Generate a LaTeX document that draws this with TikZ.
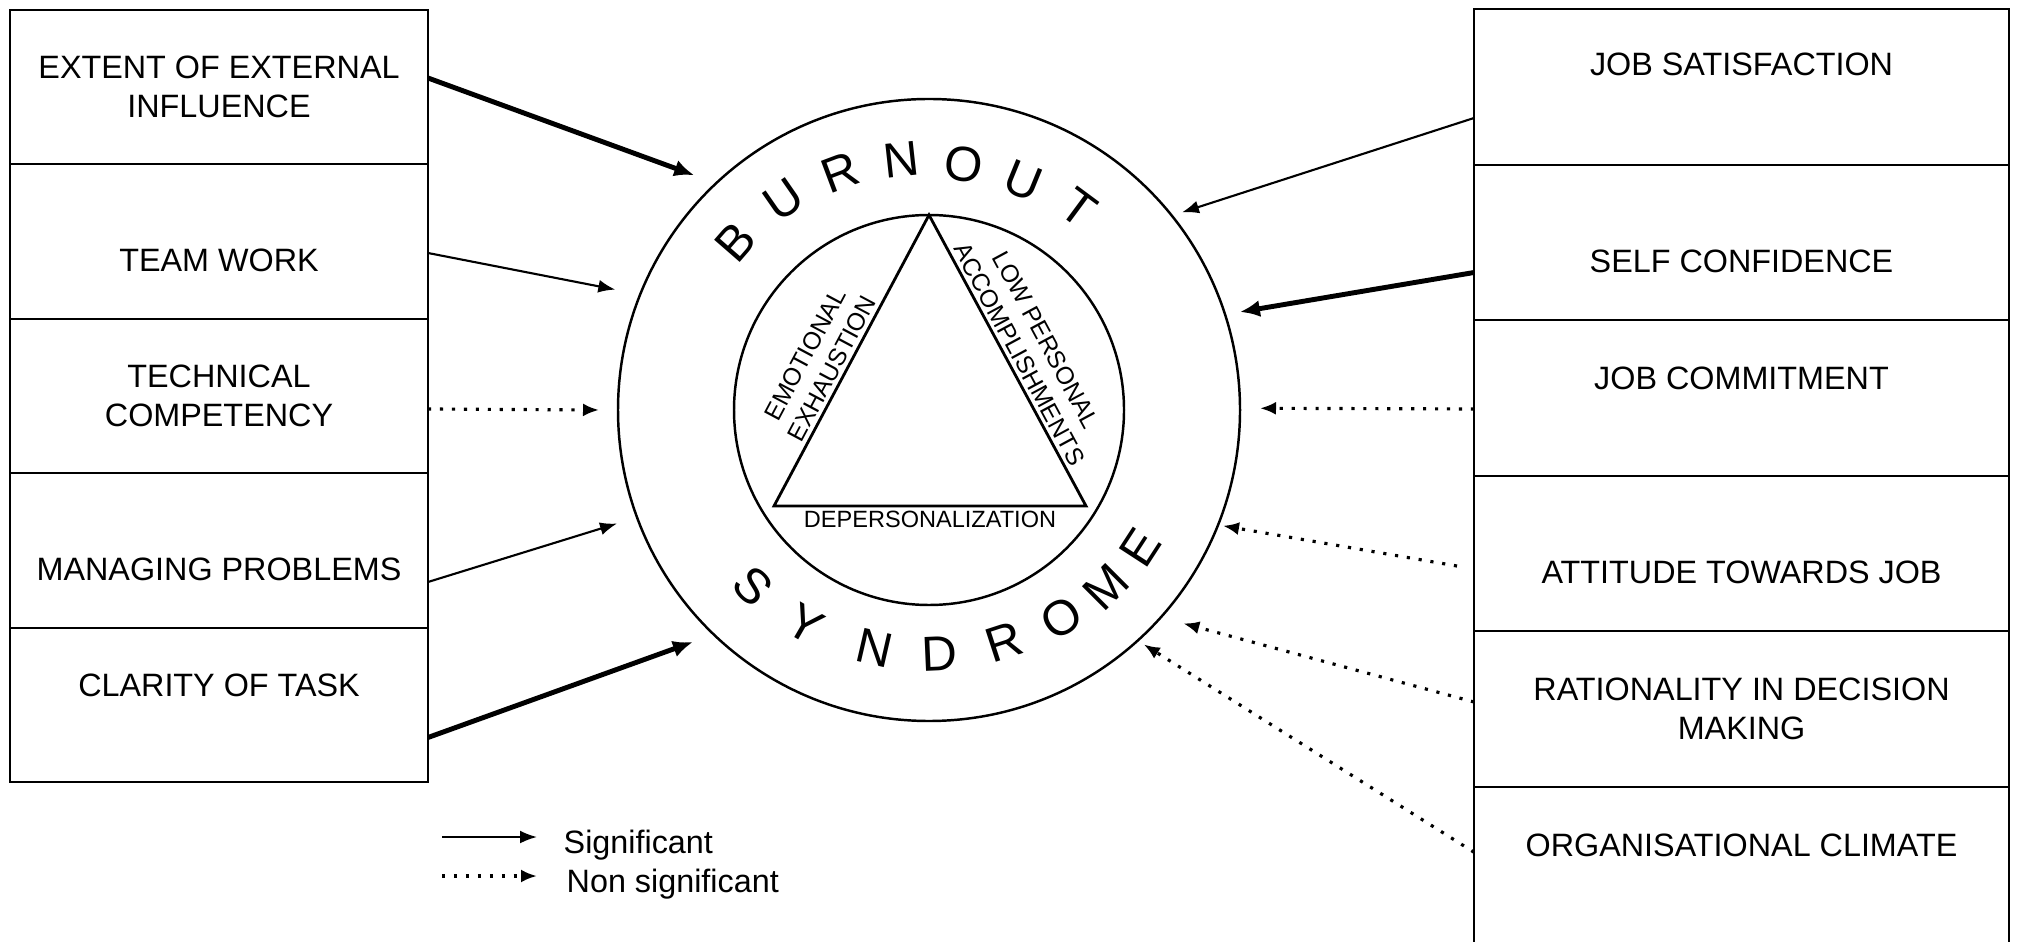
\documentclass[tikz,border=0pt]{standalone}
\usepackage{fontspec}
\setmainfont{Liberation Sans}
\usetikzlibrary{arrows.meta,calc,positioning}
\newcommand{\factorfont}{\fontsize{9.2pt}{11pt}\selectfont}
\newcommand{\ringfont}{\fontsize{14pt}{16pt}\selectfont}
\newcommand{\sidefont}{\fontsize{7pt}{8.6pt}\selectfont}
\tikzset{
  factor/.style={
    draw,
    line width=0.7pt,
    align=center,
    minimum height=1.545cm,
    inner sep=2pt,
    outer sep=0pt,
    font=\factorfont
  },
  leftfactor/.style={
    factor,
    minimum width=4.18cm
  },
  rightfactor/.style={
    factor,
    minimum width=5.35cm,
    minimum height=1.555cm
  },
  txtdown/.style={text height=17pt},
  txtup/.style={text depth=11pt},
  ringletter/.style={
    inner sep=0pt,
    font=\ringfont
  },
  side/.style={
    inner sep=1pt,
    align=center,
    font=\sidefont
  },
  sidebase/.style={
    side,
    font=\fontsize{6.7pt}{7pt}\selectfont
  },
  legend/.style={
    inner sep=1pt,
    font=\factorfont
  },
  sig/.style={
    -{Latex[length=1.7mm,width=1.3mm]},
    line width=0.6pt
  },
  sigbold/.style={
    -{Latex[length=2mm,width=1.7mm]},
    line width=1.4pt
  },
  nonsig/.style={
    -{Latex[length=1.6mm,width=1.3mm]},
    line width=0.9pt,
    dash pattern=on 0.9pt off 2.5pt
  }
}

\begin{document}
\begin{tikzpicture}
\useasboundingbox (0,0) rectangle (20.19,9.41);
\node[leftfactor] (ext) at (2.19,8.54) {EXTENT OF EXTERNAL\\INFLUENCE};
\node[leftfactor, txtdown, below=0pt of ext] (team) {TEAM WORK};
\node[leftfactor, below=0pt of team] (tech) {TECHNICAL\\COMPETENCY};
\node[leftfactor, txtdown, below=0pt of tech] (manage) {MANAGING PROBLEMS};
\node[leftfactor, txtup, below=0pt of manage] (clarity) {CLARITY OF TASK};

\node[rightfactor, text depth=13pt] (jobsat) at (17.415,8.54) {JOB SATISFACTION};
\node[rightfactor, txtdown, below=0pt of jobsat] (selfconf) {SELF CONFIDENCE};
\node[rightfactor, txtup, below=0pt of selfconf] (commit) {JOB COMMITMENT};
\node[rightfactor, txtdown, below=0pt of commit] (attitude) {ATTITUDE TOWARDS JOB};
\node[rightfactor, below=0pt of attitude] (ration) {RATIONALITY IN DECISION\\MAKING};
\node[rightfactor, minimum height=2.2cm, text depth=1.03cm, below=0pt of ration] (climate) {ORGANISATIONAL CLIMATE};

\node[circle, draw, line width=0.7pt, minimum size=6.22cm, inner sep=0pt, outer sep=0pt] (ring) at (9.29,5.31) {};
\node[circle, draw, line width=0.7pt, minimum size=3.9cm, inner sep=0pt, outer sep=0pt] (core) at (ring.center) {};

\node[ringletter, rotate=49] (bo1) at ($(ring.center)+(139:2.56)$) {B};
\node[ringletter, rotate=34.75] (bo2) at ($(ring.center)+(124.75:2.56)$) {U};
\node[ringletter, rotate=20.5] (bo3) at ($(ring.center)+(110.5:2.54)$) {R};
\node[ringletter, rotate=6.25] (bo4) at ($(ring.center)+(96.25:2.52)$) {N};
\node[ringletter, rotate=-8] (bo5) at ($(ring.center)+(82:2.48)$) {O};
\node[ringletter, rotate=-22.25] (bo6) at ($(ring.center)+(67.75:2.48)$) {U};
\node[ringletter, rotate=-36.5] (bo7) at ($(ring.center)+(53.5:2.52)$) {T};

\node[ringletter, rotate=-45] (sy1) at ($(ring.center)+(225:2.49)$) {S};
\node[ringletter, rotate=-30] (sy2) at ($(ring.center)+(240:2.47)$) {Y};
\node[ringletter, rotate=-13] (sy3) at ($(ring.center)+(257:2.44)$) {N};
\node[ringletter, rotate=2.5] (sy4) at ($(ring.center)+(272.5:2.44)$) {D};
\node[ringletter, rotate=18] (sy5) at ($(ring.center)+(288:2.44)$) {R};
\node[ringletter, rotate=32.5] (sy6) at ($(ring.center)+(302.5:2.47)$) {O};
\node[ringletter, rotate=45] (sy7) at ($(ring.center)+(315:2.5)$) {M};
\node[ringletter, rotate=57] (sy8) at ($(ring.center)+(327:2.52)$) {E};

\coordinate (apex) at (core.north);
\coordinate (baseL) at ($(core.center)+(-1.55,-0.96)$);
\coordinate (baseR) at ($(core.center)+(1.57,-0.96)$);
\draw[line width=0.8pt] (baseL)
  -- node[side, sloped, above, pos=0.45] (emo) {EMOTIONAL\\EXHAUSTION} (apex)
  -- node[side, sloped, above, pos=0.5] (low) {LOW PERSONAL\\ACCOMPLISHMENTS} (baseR)
  -- node[sidebase, below] (deper) {DEPERSONALIZATION} cycle;

\coordinate (toExt) at ($(ring.center)+(135:3.32)$);
\coordinate (toTeam) at ($(ring.center)+(159:3.36)$);
\coordinate (toTech) at ($(ring.center)+(180:3.3)$);
\coordinate (toMan) at ($(ring.center)+(200:3.32)$);
\coordinate (toClar) at ($(ring.center)+(224.5:3.31)$);
\coordinate (toSat) at ($(ring.center)+(38:3.21)$);
\coordinate (toConf) at ($(ring.center)+(17.5:3.26)$);
\coordinate (toComm) at ($(ring.center)+(0.3:3.31)$);
\coordinate (toAtt) at ($(ring.center)+(-21.5:3.16)$);
\coordinate (toRat) at ($(ring.center)+(-40:3.32)$);
\coordinate (toClim) at ($(ring.center)+(-47.5:3.18)$);

\draw[sigbold] ([yshift=0.09cm]ext.east) -- (toExt);
\draw[sig] ([yshift=-0.115cm]team.east) -- (toTeam);
\draw[nonsig] ([yshift=-0.13cm]tech.east) -- (toTech);
\draw[sig] ([yshift=-0.315cm]manage.east) -- (toMan);
\draw[sigbold] ([yshift=-0.325cm]clarity.east) -- (toClar);
\draw[sig] ([yshift=-0.31cm]jobsat.west) -- (toSat);
\draw[sigbold] ([yshift=-0.3cm]selfconf.west) -- (toConf);
\draw[nonsig] ([yshift=-0.11cm]commit.west) -- (toComm);
\draw[nonsig] ([xshift=-0.17cm,yshift=-0.125cm]attitude.west) -- (toAtt);
\draw[nonsig] ([yshift=0.07cm]ration.west) -- (toRat);
\draw[nonsig] ([yshift=0.445cm]climate.west) -- (toClim);

\coordinate (sigkey) at (4.42,1.04);
\coordinate (nskey) at (4.42,0.65);
\node[legend, right=1.175cm of sigkey, yshift=-0.08cm] (sigtxt) {Significant};
\node[legend, right=1.205cm of nskey, yshift=-0.08cm] (nstxt) {Non significant};
\draw[sig] (sigkey) -- ([xshift=-0.225cm,yshift=0.08cm]sigtxt.west);
\draw[nonsig] (nskey) -- ([xshift=-0.255cm,yshift=0.08cm]nstxt.west);
\end{tikzpicture}
\end{document}
